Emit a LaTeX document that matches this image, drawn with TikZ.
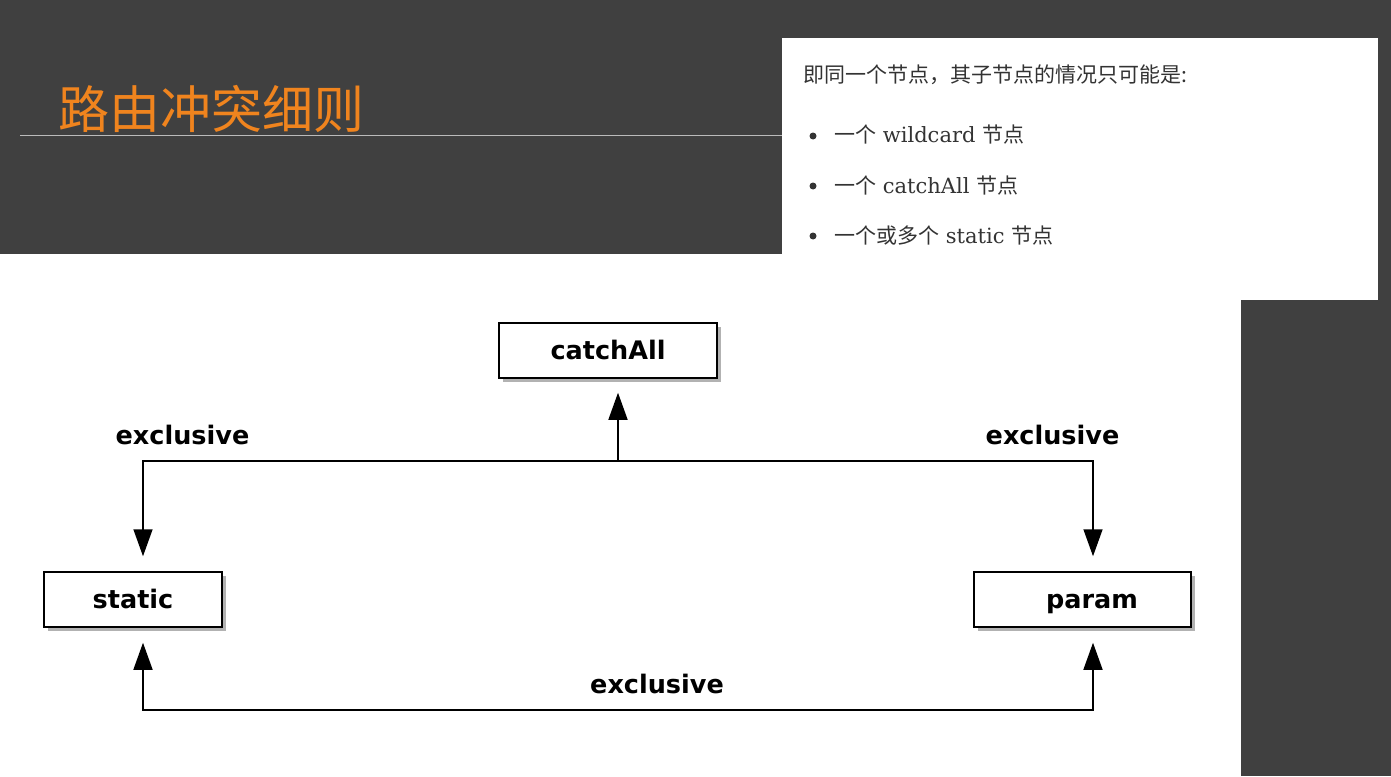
\documentclass[tikz,border=0pt]{standalone}
\usepackage{fontspec}
\setmainfont{DejaVu Serif}
\newfontfamily\cjk{Noto Sans CJK SC}
\newfontfamily\lblfont{DejaVu Sans}[BoldFont={DejaVu Sans Bold}]
\usetikzlibrary{arrows.meta,shadows}
\definecolor{bg}{HTML}{404040}
\definecolor{titleorange}{RGB}{240,132,30}
\definecolor{bodytext}{HTML}{333333}
\definecolor{rulegray}{HTML}{BBBBBB}
\tikzset{
  nodebox/.style={draw=black, line width=1.5pt, fill=white, minimum height=55pt, inner sep=0pt,
    text height=22pt, text depth=5pt,
    drop shadow={shadow xshift=4pt, shadow yshift=-4pt, fill=black, opacity=0.3},
    font=\lblfont\bfseries\fontsize{25.5}{30}\selectfont},
  lbl/.style={anchor=base, inner sep=0pt, font=\lblfont\bfseries\fontsize{25.5}{30}\selectfont},
  conn/.style={line width=1.5pt, -{Triangle[length=27pt,width=19pt]}},
  bodyline/.style={anchor=base west, inner sep=0pt, text=bodytext, font=\fontsize{21}{26}\selectfont},
}
\begin{document}
\begin{tikzpicture}[x=1pt,y=-1pt]
\useasboundingbox (0,0) rectangle (1391,776);
\fill[bg] (0,0) rectangle (1391,776);
\fill[white] (0,254) rectangle (1241,776);
\fill[white] (782,38) rectangle (1378,300);
\draw[rulegray, line width=1pt] (20,135) -- (782,135);
\node[anchor=base west, inner sep=0pt, text=titleorange, font=\cjk\fontsize{51}{60}\selectfont] (title) at (58,128) {路由冲突细则};

\node[bodyline] (intro) at (803,82) {\cjk 即同一个节点，其子节点的情况只可能是:};
\fill[bodytext] (813,136) circle (3.5pt);
\fill[bodytext] (813,186) circle (3.5pt);
\fill[bodytext] (813,236) circle (3.5pt);
\node[bodyline] (item1) at (834,142) {{\cjk 一个} wildcard {\cjk 节点}};
\node[bodyline] (item2) at (834,193) {{\cjk 一个} catchAll {\cjk 节点}};
\node[bodyline] (item3) at (834,243) {{\cjk 一个或多个} static {\cjk 节点}};

\node[nodebox, minimum width=218pt] (catchAll) at (608,350.5) {catchAll};
\node[nodebox, minimum width=178pt] (static) at (133,599.5) {static};
\node[nodebox, minimum width=217pt] (param) at (1082.5,599.5) {\hspace*{19pt}param};

\node[lbl] (e1) at (182.5,444) {exclusive};
\node[lbl] (e2) at (1052.5,444) {exclusive};
\node[lbl] (e3) at (657,693) {exclusive};

\coordinate (j) at (618,461);
\coordinate (b) at (618,710);
\draw[conn, shorten >=14pt] (j) -- (j |- catchAll.south);
\draw[conn, shorten >=15pt] (j) -| ([xshift=10pt]static.north);
\draw[conn, shorten >=15pt] (j) -| ([xshift=10.5pt]param.north);
\draw[conn, shorten >=15pt] (b) -| ([xshift=10pt]static.south);
\draw[conn, shorten >=15pt] (b) -| ([xshift=10.5pt]param.south);
\end{tikzpicture}
\end{document}
